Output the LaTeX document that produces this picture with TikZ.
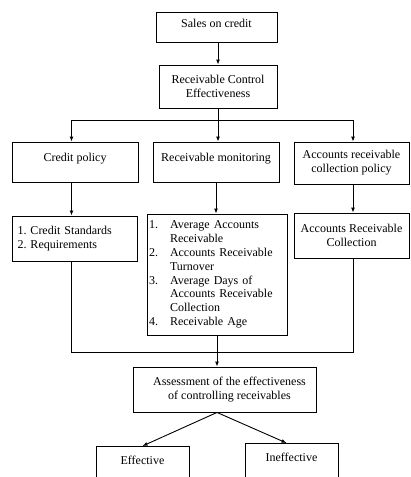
\documentclass[tikz,border=0pt]{standalone}
\usepackage{fontspec}
\setmainfont{Liberation Serif}
\usetikzlibrary{arrows.meta}

\begin{document}
\begin{tikzpicture}[x=1pt, y=-1pt]
	\tikzstyle{comp} = [
		rectangle, draw=black, line width=0.9pt, inner sep=2pt,
		font=\fontsize{12}{13.8}\selectfont, align=center
	]
	\tikzstyle{comp_cut} = [
		comp, anchor=north, minimum width=93pt, inner ysep=10pt, text height=8pt, text depth=40pt
	]
	\tikzstyle{conn} = [
		-{Latex[length=5pt, width=4pt]}, line width=0.9pt
	]
	\tikzstyle{wire} = [
		line width=0.9pt
	]

	\useasboundingbox (0,0) rectangle (411,477);

	% Sales
	\node (Sales) [comp, minimum width=121pt, minimum height=30pt, text depth=8pt] at (216.5,27) {Sales on credit};

	% Receivable control
	\node (RCE) [comp, minimum width=118pt, minimum height=43pt] at (218,86.5) {Receivable Control\\Effectiveness};

	% Policies (row 1)
	\node (CP) [comp, minimum width=126pt, minimum height=40pt, text depth=8.5pt] at (75,162) {Credit policy};
	\node (RM) [comp, minimum width=126pt, minimum height=40pt, text depth=8.5pt] at (216,162) {Receivable monitoring};
	\node (ACP) [comp, minimum width=115pt, minimum height=42pt] at (351.5,163) {Accounts receivable\\collection policy};

	% Details (row 2)
	\node (CS) [comp, minimum height=45pt, text width=114pt, inner xsep=5.5pt, align=left] at (74.5,238.5)
		{1.\ Credit Standards\\2.\ Requirements};
	\node (List) [comp, minimum height=121pt, text width=136pt, inner xsep=2pt, align=left] at (217,274.5) {%
		\begin{tabular}{@{}p{21pt}@{}l@{}}
			1. & Average Accounts\\
			   & Receivable\\
			2. & Accounts Receivable\\
			   & Turnover\\
			3. & Average Days of\\
			   & Accounts Receivable\\
			   & Collection\\
			4. & Receivable Age
		\end{tabular}};
	\node (ARC) [comp, minimum width=115pt, minimum height=45pt] at (351.5,235.5) {Accounts Receivable\\Collection};

	% Assessment
	\node (Assess) [comp, minimum width=183pt, minimum height=45pt] at (224.5,389.5)
		{\hspace*{10pt}Assessment of the effectiveness\\\hspace*{10pt}of controlling receivables};

	% Result
	\node (Eff) [comp_cut] at (142.5,446) {Effective};
	\node (Ineff) [comp_cut] at (291.5,443) {Ineffective};

	% Sales -> Receivable control
	\draw[conn] (Sales.south -| RCE.north) -- (RCE.north);

	% Receivable control -> policies
	\coordinate (barL) at (71.5,120);
	\coordinate (barR) at (353,120);
	\draw[wire] (RCE.south) -- (RCE.south |- barL);
	\draw[wire] (barL) -- (barR);
	\draw[conn] (barL) -- (barL |- CP.north);
	\draw[conn] (RCE.south |- barL) -- (RCE.south |- RM.north);
	\draw[conn] (barR) -- (barR |- ACP.north);

	% Policies -> details
	\draw[conn] (barL |- CP.south) -- (barL |- CS.north);
	\draw[conn] (RM.south) -- (RM.south |- List.north);
	\draw[conn] (barR |- ACP.south) -- (barR |- ARC.north);

	% Details -> assessment
	\coordinate (joinL) at (71.5,352);
	\coordinate (joinR) at (353,352);
	\draw[wire] (joinL |- CS.south) -- (joinL) -- (joinR) -- (joinR |- ARC.south);
	\draw[conn] (List.south) -- (List.south |- Assess.north);

	% Assessment -> result
	\coordinate (fork) at (Assess.south -| List.south);
	\draw[conn] (fork) -- (Eff.north);
	\draw[conn] (fork) -- ([xshift=-5pt]Ineff.north);
\end{tikzpicture}
\end{document}
